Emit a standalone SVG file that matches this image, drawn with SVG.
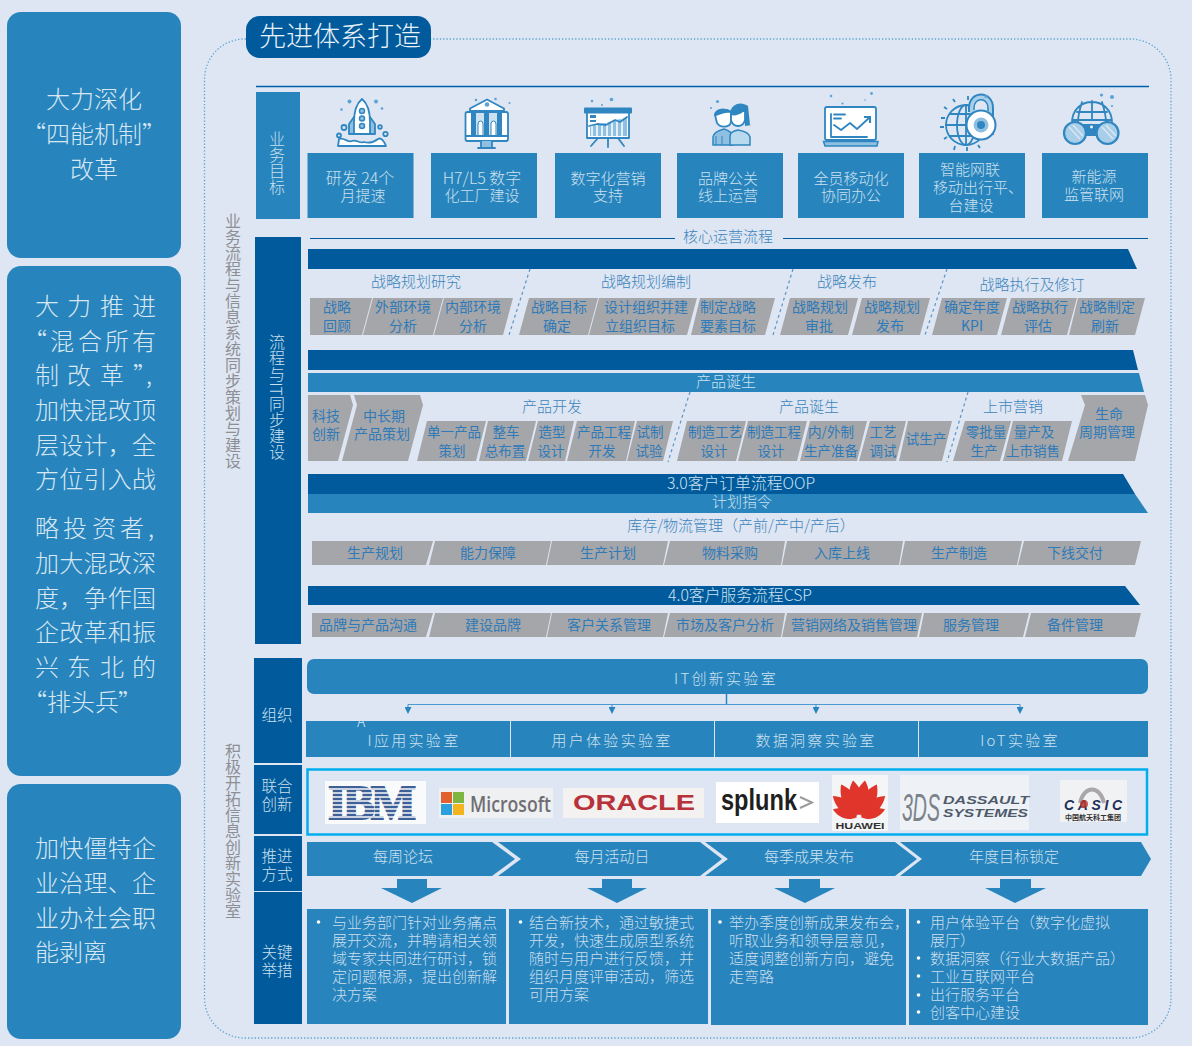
<svg xmlns="http://www.w3.org/2000/svg" xmlns:xlink="http://www.w3.org/1999/xlink" width="1192" height="1046" viewBox="0 0 1192 1046">
<style>
text{font-family:"Noto Sans CJK SC","Noto Sans",sans-serif;font-weight:300}
.m{fill:#2884bd}.d{fill:#005a9c}.g{fill:#a5a6a9}
.w{fill:#cbe1ef;font-size:15px;text-anchor:middle}
.b{fill:#d8e8f3;font-size:24px}
.bc{fill:#d8e8f3;font-size:24px;text-anchor:middle}
.t{fill:#2f7ab8;font-size:14px;text-anchor:middle;font-weight:400}
.n{font-size:13.500px}
.h{fill:#3d84bc;font-size:15px;text-anchor:middle}
.v{fill:#c9e0ee;font-size:16px;text-anchor:middle;writing-mode:vertical-rl}
.s{fill:#8e8f94;font-size:16px;text-anchor:middle;writing-mode:vertical-rl;font-weight:400}
.l{fill:#cbe1ef;font-size:15.500px;text-anchor:middle}
.lab{fill:#cbe1ef;font-size:15px;text-anchor:middle;letter-spacing:2.300px}
.p{fill:#c9dfed;font-size:15px}
.dot{fill:#fff}
.div{stroke:#5a94c6;stroke-width:1.200;stroke-dasharray:3 3;fill:none}
.ic{stroke:#2f86c0;stroke-width:1.800;fill:none;stroke-linejoin:round;stroke-linecap:round}
.icw{stroke:#2f86c0;stroke-width:1.800;fill:#fff;stroke-linejoin:round}
.icf{fill:#2f86c0}.icl{fill:#8fc0e2}.spk{fill:#5ba3d6}
</style>
<defs>
<marker id="ah" markerWidth="7" markerHeight="7" refX="0" refY="3.500" orient="auto" markerUnits="userSpaceOnUse" viewBox="0 0 7 7"><path d="M0 0L7 3.500L0 7Z" fill="#2884bd"/></marker>
<path id="petal" d="M0 -3C-10 -14 -8 -28 0 -38C8 -28 10 -14 0 -3Z" fill="#e0352b"/>
</defs>
<rect width="1192" height="1046" fill="#dde6f2"/>

<g id="block-1"><rect class="m" x="7" y="12" width="174" height="246" rx="14"/>
<text class="bc" x="94" y="108">大力深化</text><text class="bc" x="94" y="143">“四能机制”</text><text class="bc" x="94" y="178">改革</text></g>
<g id="block-2"><rect class="m" x="7" y="266" width="174" height="510" rx="14"/>
<text class="b" x="35 67 100 132" y="315">大力推进</text><text class="b" x="23 50 78 105 132" y="350">“混合所有</text><text class="b" x="35 67 100 133 146" y="384">制改革”,</text><text class="b" x="35" y="419" textLength="121">加快混改顶</text><text class="b" x="35" y="454" textLength="121">层设计，全</text><text class="b" x="35" y="488" textLength="121">方位引入战</text>
<text class="b" x="35 63 92 120 148" y="537">略投资者,</text><text class="b" x="35" y="572" textLength="121">加大混改深</text><text class="b" x="35" y="607" textLength="121">度，争作国</text><text class="b" x="35" y="641" textLength="121">企改革和振</text><text class="b" x="35 67 100 132" y="676">兴东北的</text><text class="b" x="23 47 71 95 118" y="711">“排头兵”</text></g>
<g id="block-3"><rect class="m" x="7" y="784" width="174" height="255" rx="14"/>
<text class="b" x="35" y="857" textLength="121">加快僵特企</text><text class="b" x="35" y="892" textLength="121">业治理、企</text><text class="b" x="35" y="927" textLength="121">业办社会职</text><text class="b" x="35" y="961">能剥离</text></g>

<path id="frame" d="M246 39H245C222 39 204.500 57 204.500 80V998C204.500 1020 222 1038 245 1038H1130C1153 1038 1171 1020 1171 998V80C1171 57 1153 39 1130 39H431" fill="none" stroke="#5ba3d0" stroke-width="1.300" stroke-dasharray="1.300 2"/>
<g id="title"><rect class="d" x="246" y="16" width="185" height="42" rx="14"/><text x="340" y="46" font-size="27" fill="#e8f1f7" text-anchor="middle">先进体系打造</text></g>
<text class="s" x="233" y="341">业务流程与信息系统同步策划与建设</text>
<text class="s" x="233" y="831">积极开拓信息创新实验室</text>

<path d="M256 86.500H1149" stroke="#005fae" stroke-width="1.300"/>
<g id="goals-label"><rect class="m" x="256" y="92" width="44" height="127"/><text class="v" x="277" y="163">业务目标</text></g>
<g id="goal-1"><rect class="m" x="307.500" y="153" width="106" height="65"/><text class="w" style="font-size:16px" x="360" y="184">研发 24个</text><text class="w" x="363" y="201">月提速</text></g>
<g id="goal-2"><rect class="m" x="431" y="153" width="106" height="65"/><text class="w" style="font-size:16px" x="482" y="184">H7/L5 数字</text><text class="w" x="482" y="201">化工厂建设</text></g>
<g id="goal-3"><rect class="m" x="555" y="153" width="106" height="65"/><text class="w" x="608" y="184">数字化营销</text><text class="w" x="608" y="201">支持</text></g>
<g id="goal-4"><rect class="m" x="677" y="153" width="106" height="65"/><text class="w" x="728" y="184">品牌公关</text><text class="w" x="728" y="201">线上运营</text></g>
<g id="goal-5"><rect class="m" x="798" y="153" width="106" height="65"/><text class="w" x="851" y="184">全员移动化</text><text class="w" x="851" y="201">协同办公</text></g>
<g id="goal-6"><rect class="m" x="919" y="153" width="106" height="65"/><text class="w" x="970" y="175">智能网联</text><text class="w" x="978" y="193">移动出行平、</text><text class="w" x="971" y="211">台建设</text></g>
<g id="goal-7"><rect class="m" x="1042" y="153" width="106" height="65"/><text class="w" x="1094" y="182">新能源</text><text class="w" x="1094" y="200">监管联网</text></g>

<g id="icon-rocket">
<path class="icl" d="M354 117L349 124V134H354ZM370 117L375 124V134H370Z"/><path class="ic" d="M354 117L349 124V134H375V124L370 117"/>
<path class="icw" d="M362 99C356 104 354 112 354 122V134H370V122C370 112 368 104 362 99Z"/>
<circle class="icl" cx="362" cy="111" r="2.500" stroke="#2f86c0" stroke-width="1.500"/><circle class="icl" cx="362" cy="118.500" r="2.500" stroke="#2f86c0" stroke-width="1.500"/><circle class="icl" cx="362" cy="126" r="2.500" stroke="#2f86c0" stroke-width="1.500"/>
<path class="icw" d="M338 146L339 139C344 137 348 143 352 141C356 139 360 144 364 142C370 144 374 142 378 139C381 137 384 141 386 146Z" stroke-width="1.500"/>
<circle class="ic" cx="344" cy="127.500" r="2.500"/><circle class="ic" cx="339" cy="135.500" r="2"/><circle class="ic" cx="385.500" cy="134" r="2.200"/><circle class="ic" cx="380" cy="127" r="1.800"/>
<circle class="spk" cx="349.500" cy="101.500" r="2"/><circle class="spk" cx="376" cy="101.500" r="2"/><circle class="spk" cx="341.500" cy="109.500" r="1.300"/><circle class="spk" cx="382" cy="108.500" r="1.300"/></g>

<g id="icon-bank">
<rect class="icw" x="465.500" y="112" width="42.500" height="29" rx="2"/>
<rect class="icf" x="471" y="110" width="31" height="26" opacity=".25"/>
<path class="icf" d="M471 112h5v24h-5zM484 112h5v24h-5zM497 112h5v24h-5z"/>
<path d="M478 136v-12a2.500 3 0 0 1 5 0v12zM491 136v-12a2.500 3 0 0 1 5 0v12z" fill="#fff" stroke="#2f86c0"/>
<path class="icw" d="M487 99.500L470 108.500V111H504V108.500Z"/><circle class="spk" cx="487" cy="104.500" r="2.300"/>
<path class="ic" d="M466 136H508"/><path class="icl" d="M481 141H492V147H481Z"/><path class="ic" d="M478 148H495M481 141V148M492 141V148"/>
<circle class="spk" cx="476" cy="100" r="1.300"/><circle class="spk" cx="495.500" cy="99" r="1.300"/><circle class="spk" cx="509.500" cy="103" r="1"/></g>

<g id="icon-board">
<rect class="icw" x="587" y="112" width="42" height="26"/>
<path class="icl" d="M590 136V127L597 124L606 123L615 120L627 118V136Z"/>
<path d="M592 126V136M597 125V136M602 124V136M607 123V136M612 122V136M617 120V136M622 119V136" stroke="#fff" stroke-width="1.500"/>
<path class="ic" d="M589 126L597 124L606 125L615 120L620 122L627 117"/>
<rect class="icf" x="590" y="115" width="6" height="3"/><rect class="icf" x="590" y="120" width="6" height="2"/>
<rect class="icf" x="584" y="107.500" width="48" height="6" rx="1"/>
<path class="ic" d="M608 139V147M598 138L591 146M618 138L624 146"/>
<circle class="spk" cx="592" cy="101" r="1.300"/><circle class="spk" cx="611.500" cy="99.500" r="1.800"/><circle class="spk" cx="602" cy="105" r="1"/></g>

<g id="icon-people">
<path class="icl" d="M713 145V137C713 133 717 131 724 129C731 131 733 133 733 145Z" stroke="#2f86c0" stroke-width="1.500"/>
<path d="M722 145V136M716 145V136" stroke="#2f86c0"/>
<path class="icw" d="M715 115C716 109 725 108 731 112V122C730 127 721 129 717 123Z"/>
<path class="icf" d="M714 115C716 108 726 107 731 111L731 113C725 112 722 114 716 116Z"/>
<path d="M730 145V136C730 133 733 131 738 130C744 131 749 133 750 137V145Z" fill="#b9d9ee" stroke="#2f86c0" stroke-width="1.500"/>
<path class="icf" d="M730 114C730 105 740 100 748 106L750 125H752L745 126V114H733Z"/>
<path class="icw" d="M731 114C735 116 741 113 745 109V120C743 128 733 128 731 120Z"/>
<circle class="spk" cx="717.500" cy="101.500" r="1.600"/><circle class="spk" cx="711" cy="108" r="1"/></g>

<g id="icon-laptop">
<rect class="icw" x="825" y="107" width="51" height="33" rx="2" stroke-width="2"/>
<path class="ic" d="M831 114V137H867M834 125L841 130L850 123L857 129L869 118"/>
<path d="M864 117H870V123" fill="none" stroke="#2f86c0" stroke-width="2"/>
<path class="ic" d="M834 114.500H845M834 118.500H841"/>
<path class="icl" d="M823.500 141.500H878L877 146H825Z" stroke="#2f86c0" stroke-width="1.500"/>
<circle class="spk" cx="831" cy="96" r="1.300"/><circle class="spk" cx="842.500" cy="103.500" r="1.100"/><circle class="spk" cx="871.500" cy="93.500" r="1.400"/><circle class="spk" cx="865" cy="100" r=".8"/></g>

<g id="icon-globe">
<circle class="ic" cx="966" cy="125" r="20"/><ellipse class="ic" cx="966" cy="125" rx="9" ry="20"/><path class="ic" d="M966 105V145M946 125H986M950 114H982M950 136H982"/>
<path d="M945 118h-4M944 127h-4M947 109l-3-2M947 137l-3 2M955 102l-2-3M968 100v-4M955 146l-1 4M967 147v4M978 145l2 3" stroke="#2f86c0" stroke-width="1.800"/>
<path d="M969 112V108C969 90 993 90 993 108V135" fill="#a8cfe9" stroke="#2f86c0" stroke-width="2"/>
<path d="M974 110V108C974 97 988 97 988 108V111" fill="#dde6f2" stroke="#2f86c0" stroke-width="1.500"/>
<circle cx="981" cy="125" r="14.500" fill="#fff" stroke="#2f86c0" stroke-width="2"/><circle cx="981" cy="125" r="7.500" fill="#8fc0e2"/><circle cx="981" cy="125" r="4" fill="#2f86c0"/>
<circle class="spk" cx="986" cy="96.500" r="1.500"/></g>

<g id="icon-binoculars">
<path class="ic" d="M1072 123C1072 95 1112 95 1112 123M1082 102C1078 115 1078 118 1078 122M1102 102C1106 115 1106 118 1106 122M1092 101V120M1077 112H1107M1072 120H1112"/>
<path class="icf" d="M1080 124H1103L1106 128L1098 136H1085L1077 128Z"/>
<circle class="icw" cx="1091.500" cy="127" r="2.300"/>
<circle cx="1075" cy="133" r="11" fill="#a8cfe9" stroke="#2f86c0" stroke-width="2.200"/><circle cx="1107.500" cy="133" r="11" fill="#a8cfe9" stroke="#2f86c0" stroke-width="2.200"/>
<path d="M1069 127L1080 139M1073 125L1083 136M1102 127L1113 139M1106 125L1116 136" stroke="#dde6f2" stroke-width="1.500"/>
<circle class="spk" cx="1101.500" cy="95" r="1.600"/><circle class="spk" cx="1112" cy="97" r="2"/><circle class="spk" cx="1112" cy="106" r="1.100"/></g>

<g id="process-label"><rect class="d" x="255" y="237" width="46" height="407"/><text class="v" x="277" y="397">流程与IT同步建设</text></g>
<path d="M310 238.500H675M783 238.500H1148" stroke="#005a9c" stroke-width="1.200"/>
<text class="h" x="728" y="242">核心运营流程</text>

<g id="bars">
<polygon class="d" points="308,249 1128,249 1137,269 308,269"/>
<polygon class="d" points="308,350 1133,350 1138,370 308,370"/>
<polygon class="m" points="308,373 1139,373 1144,392 308,392"/>
<text class="w" x="726" y="387">产品诞生</text>
<polygon class="d" points="308,474 1123,474 1135,494 308,494"/>
<polygon class="m" points="308,494 1135,494 1148,513 308,513"/>
<text class="w" style="font-size:15.800px" x="741" y="489">3.0客户订单流程OOP</text><text class="w" x="742" y="507">计划指令</text>
<polygon class="d" points="308,586 1125,586 1140,605 308,605"/>
<text class="w" style="font-size:15.800px" x="740" y="601">4.0客户服务流程CSP</text>
</g>

<g id="dividers"><path class="div" d="M530 269L509 335M793 269L773 335M947 269L925 335M690 392L668 462M968 392L947 462"/></g>

<g id="strategy">
<text class="h" x="416" y="287">战略规划研究</text><text class="h" x="646" y="287">战略规划编制</text><text class="h" x="847" y="287">战略发布</text><text class="h" x="1032" y="290">战略执行及修订</text>
<polygon class="g" points="310,298 372,298 362,335 310,335"/><text class="t" x="337" y="312">战略</text><text class="t" x="337" y="331">回顾</text>
<polygon class="g" points="373,298 443,298 433,335 363,335"/><text class="t" x="403" y="312">外部环境</text><text class="t" x="403" y="331">分析</text>
<polygon class="g" points="444,298 513,298 503,335 434,335"/><text class="t" x="473" y="312">内部环境</text><text class="t" x="473" y="331">分析</text>
<polygon class="g" points="529,298 598,298 588,335 519,335"/><text class="t" x="559" y="312">战略目标</text><text class="t" x="557" y="331">确定</text>
<polygon class="g" points="599,298 697,298 687,335 589,335"/><text class="t" x="646" y="312">设计组织并建</text><text class="t" x="640" y="331">立组织目标</text>
<polygon class="g" points="700,298 775,298 765,335 691,335"/><text class="t" x="728" y="312">制定战略</text><text class="t" x="728" y="331">要素目标</text>
<polygon class="g" points="790,298 858,298 848,335 780,335"/><text class="t" x="820" y="312">战略规划</text><text class="t" x="819" y="331">审批</text>
<polygon class="g" points="862,298 930,298 920,335 852,335"/><text class="t" x="892" y="312">战略规划</text><text class="t" x="890" y="331">发布</text>
<polygon class="g" points="942,298 1007,298 997,335 932,335"/><text class="t" x="972" y="312">确定年度</text><text class="t" x="972" y="331">KPI</text>
<polygon class="g" points="1011,298 1077,298 1067,335 1001,335"/><text class="t" x="1040" y="312">战略执行</text><text class="t" x="1038" y="331">评估</text>
<polygon class="g" points="1078,298 1145,298 1135,335 1069,335"/><text class="t" x="1107" y="312">战略制定</text><text class="t" x="1105" y="331">刷新</text>
</g>

<g id="product">
<text class="h" x="552" y="412">产品开发</text><text class="h" x="809" y="412">产品诞生</text><text class="h" x="1013" y="412">上市营销</text>
<polygon class="g" points="308,395 350,395 353,405 338,461 308,461"/><text class="t" x="326" y="421">科技</text><text class="t" x="326" y="439">创新</text>
<polygon class="g" points="354,395 420,395 423,405 408,461 342,461 357,405"/><text class="t" x="384" y="421">中长期</text><text class="t" x="382" y="439">产品策划</text>
<polygon class="g" points="427,421 486,421 476,461 417,461"/><text class="t n" x="454" y="437">单一产品</text><text class="t n" x="452" y="456">策划</text>
<polygon class="g" points="488,421 536,421 526,461 479,461"/><text class="t n" x="506" y="437">整车</text><text class="t n" x="505" y="456">总布置</text>
<polygon class="g" points="538,421 574,421 565,461 528,461"/><text class="t n" x="552" y="437">造型</text><text class="t n" x="551" y="456">设计</text>
<polygon class="g" points="577,421 635,421 626,461 567,461"/><text class="t n" x="604" y="437">产品工程</text><text class="t n" x="602" y="456">开发</text>
<polygon class="g" points="637,421 673,421 663,461 627,461"/><text class="t n" x="650" y="437">试制</text><text class="t n" x="649" y="456">试验</text>
<polygon class="g" points="687,421 746,421 736,461 677,461"/><text class="t n" x="715" y="437">制造工艺</text><text class="t n" x="714" y="456">设计</text>
<polygon class="g" points="748,421 807,421 797,461 738,461"/><text class="t n" x="774" y="437">制造工程</text><text class="t n" x="771" y="456">设计</text>
<polygon class="g" points="810,421 867,421 857,461 800,461"/><text class="t n" x="831" y="437">内/外制</text><text class="t n" x="831" y="456">生产准备</text>
<polygon class="g" points="870,421 906,421 896,461 859,461"/><text class="t n" x="883" y="437">工艺</text><text class="t n" x="883" y="456">调试</text>
<polygon class="g" points="908,421 952,421 942,461 899,461"/><text class="t n" x="926" y="444">试生产</text>
<polygon class="g" points="965,421 1011,421 1000,461 953,461"/><text class="t n" x="986" y="437">零批量</text><text class="t n" x="984" y="456">生产</text>
<polygon class="g" points="1013,421 1072,421 1062,461 1003,461"/><text class="t n" x="1034" y="437">量产及</text><text class="t n" x="1033" y="456">上市销售</text>
<polygon class="g" points="1081,395 1145,395 1148,405 1135,461 1068,461 1085,405"/><text class="t" x="1109" y="419">生命</text><text class="t" x="1107" y="437">周期管理</text>
</g>

<g id="order">
<text class="h" x="741" y="531">库存/物流管理（产前/产中/产后）</text>
<polygon class="g" points="312,541 433,541 426,565 312,565"/><text class="t" x="375" y="558">生产规划</text>
<polygon class="g" points="435,541 551,541 546,565 429,565"/><text class="t" x="488" y="558">能力保障</text>
<polygon class="g" points="552,541 668,541 663,565 547,565"/><text class="t" x="608" y="558">生产计划</text>
<polygon class="g" points="670,541 785,541 781,565 664,565"/><text class="t" x="730" y="558">物料采购</text>
<polygon class="g" points="787,541 903,541 899,565 782,565"/><text class="t" x="842" y="558">入库上线</text>
<polygon class="g" points="905,541 1022,541 1017,565 900,565"/><text class="t" x="959" y="558">生产制造</text>
<polygon class="g" points="1024,541 1141,541 1135,565 1018,565"/><text class="t" x="1075" y="558">下线交付</text>
</g>
<g id="service">
<polygon class="g" points="312,613 433,613 426,637 312,637"/><text class="t" x="368" y="630">品牌与产品沟通</text>
<polygon class="g" points="435,613 551,613 546,637 429,637"/><text class="t" x="493" y="630">建设品牌</text>
<polygon class="g" points="552,613 668,613 663,637 547,637"/><text class="t" x="609" y="630">客户关系管理</text>
<polygon class="g" points="670,613 785,613 781,637 664,637"/><text class="t" x="725" y="630">市场及客户分析</text>
<polygon class="g" points="787,613 922,613 917,637 782,637"/><text class="t" x="854" y="630">营销网络及销售管理</text>
<polygon class="g" points="924,613 1029,613 1023,637 919,637"/><text class="t" x="971" y="630">服务管理</text>
<polygon class="g" points="1031,613 1141,613 1135,637 1025,637"/><text class="t" x="1075" y="630">备件管理</text>
</g>

<g id="lab-labels">
<g id="label-org"><rect class="d" x="254" y="658" width="48" height="105"/><text class="l" x="277" y="721">组织</text></g>
<g id="label-joint"><rect class="d" x="254" y="765" width="48" height="69"/><text class="l" x="277" y="792">联合</text><text class="l" x="277" y="810">创新</text></g>
<g id="label-push"><rect class="d" x="254" y="836" width="48" height="55"/><text class="l" x="277" y="862">推进</text><text class="l" x="277" y="880">方式</text></g>
<g id="label-key"><rect class="d" x="254" y="892" width="48" height="132"/><text class="l" x="277" y="958">关键</text><text class="l" x="277" y="976">举措</text></g>
</g>

<g id="it-lab"><rect class="m" x="307" y="659" width="841" height="35" rx="7"/><text class="lab" x="726" y="684">IT创新实验室</text></g>
<g id="connectors" fill="none" stroke="#4a9bd0" stroke-width="1.200">
<path d="M726.500 694V704" stroke="#2884bd" stroke-width="1.500"/>
<path d="M408 704.500H1020"/>
<path d="M408 704.500V707" marker-end="url(#ah)"/><path d="M612 704.500V707" marker-end="url(#ah)"/><path d="M816 704.500V707" marker-end="url(#ah)"/><path d="M1020 704.500V707" marker-end="url(#ah)"/>
</g>
<g id="lab-1"><rect class="m" x="306" y="721" width="204" height="36"/><text x="361" y="727" font-size="14" fill="#dbe9f3" text-anchor="middle">A</text><text class="lab" x="414" y="746">I应用实验室</text></g>
<g id="lab-2"><rect class="m" x="511" y="721" width="203" height="36"/><text class="lab" x="612" y="746">用户体验实验室</text></g>
<g id="lab-3"><rect class="m" x="715" y="721" width="203" height="36"/><text class="lab" x="816" y="746">数据洞察实验室</text></g>
<g id="lab-4"><rect class="m" x="919" y="721" width="229" height="36"/><text class="lab" x="1020" y="746">IoT实验室</text></g>

<g id="partners">
<rect x="307.500" y="769.500" width="839.500" height="65" fill="#dde6f2" stroke="#00aeef" stroke-width="2.500"/>
<g id="logo-ibm"><rect x="325" y="781" width="101" height="43" fill="#f9fafb"/>
<text x="372" y="819" font-size="48" text-anchor="middle" style="font-family:'Liberation Serif',serif;font-weight:700" fill="#3f5f97" stroke="#3f5f97" stroke-width="1.800" textLength="88">IBM</text>
<path d="M328 789H424M328 793H424M328 797H424M328 801H424M328 805H424M328 809H424M328 813H424M328 817H424" stroke="#f9fafb" stroke-width="1.300"/></g>
<g id="logo-microsoft"><rect x="439" y="788" width="114" height="30" fill="#eef0f1"/>
<rect x="441" y="792" width="11" height="11" fill="#e2622f"/><rect x="453" y="792" width="11" height="11" fill="#7eb63f"/><rect x="441" y="804" width="11" height="11" fill="#2d9fdc"/><rect x="453" y="804" width="11" height="11" fill="#f4b41e"/>
<text x="470" y="812" font-size="21" style="font-family:'Open Sans',sans-serif;font-weight:600" fill="#706e73" textLength="81" lengthAdjust="spacingAndGlyphs">Microsoft</text></g>
<g id="logo-oracle"><rect x="563" y="788" width="141" height="30" fill="#f4f1f1"/>
<text x="634" y="810" font-size="22" style="font-family:'Liberation Sans',sans-serif;font-weight:700" fill="#b8323a" text-anchor="middle" textLength="122" lengthAdjust="spacingAndGlyphs">ORACLE</text></g>
<g id="logo-splunk"><rect x="716" y="782" width="103" height="41" fill="#fff"/>
<text x="721" y="810" font-size="30" style="font-family:'Liberation Sans',sans-serif;font-weight:700" fill="#1f1f1f" textLength="76" lengthAdjust="spacingAndGlyphs">splunk</text>
<path d="M800 797L812 802.500L800 808" fill="none" stroke="#9b9b9b" stroke-width="2"/></g>
<g id="logo-huawei"><rect x="832" y="775" width="56" height="56" fill="#f3f5f7"/>
<g transform="translate(859 818)"><use xlink:href="#petal" href="#petal" transform="rotate(-72) scale(.72)"/><use xlink:href="#petal" href="#petal" transform="rotate(-50) scale(.9)"/><use xlink:href="#petal" href="#petal" transform="rotate(-28)"/><use xlink:href="#petal" href="#petal" transform="rotate(-9)"/><use xlink:href="#petal" href="#petal" transform="rotate(9)"/><use xlink:href="#petal" href="#petal" transform="rotate(28)"/><use xlink:href="#petal" href="#petal" transform="rotate(50) scale(.9)"/><use xlink:href="#petal" href="#petal" transform="rotate(72) scale(.72)"/></g>
<text x="860" y="829" font-size="9" style="font-family:'Liberation Sans',sans-serif;font-weight:700" fill="#333" text-anchor="middle" textLength="49" lengthAdjust="spacingAndGlyphs">HUAWEI</text></g>
<g id="logo-dassault"><rect x="900" y="775" width="129" height="55" fill="#eef2f7"/>
<text x="902" y="821" font-size="38" style="font-family:'Liberation Sans',sans-serif;font-style:italic;font-weight:400" fill="#7c8289" textLength="38" lengthAdjust="spacingAndGlyphs">3DS</text>
<text x="943" y="804" font-size="11.500" style="font-family:'Liberation Sans',sans-serif;font-style:italic;font-weight:700" fill="#4f5b6b" textLength="86" lengthAdjust="spacingAndGlyphs">DASSAULT</text>
<text x="943" y="817" font-size="11.500" style="font-family:'Liberation Sans',sans-serif;font-style:italic;font-weight:700" fill="#4f5b6b" textLength="85" lengthAdjust="spacingAndGlyphs">SYSTEMES</text></g>
<g id="logo-casic"><rect x="1060" y="780" width="67" height="42" fill="#f1f2f4"/>
<path d="M1080 803C1084 785 1100 785 1104 803" fill="none" stroke="#a9a7ab" stroke-width="4"/>
<text x="1093" y="810" font-size="14" style="font-family:'Liberation Sans',sans-serif;font-style:italic;font-weight:700" fill="#1f2f5a" text-anchor="middle" textLength="58" lengthAdjust="spacing">CASIC</text>
<circle cx="1084" cy="804" r="4" fill="#c0392b" opacity=".8"/>
<text x="1093" y="820" font-size="7" fill="#333" text-anchor="middle" style="font-weight:700">中国航天科工集团</text></g>
</g>

<g id="steps">
<g id="step-1"><polygon class="m" points="307,842 492,842 515,859 492,876 307,876"/><text class="w" x="403" y="862">每周论坛</text></g>
<g id="step-2"><polygon class="m" points="498,842 700,842 722,859 700,876 498,876 521,859"/><text class="w" x="612" y="862">每月活动日</text></g>
<g id="step-3"><polygon class="m" points="705,842 895,842 917,859 895,876 705,876 728,859"/><text class="w" x="809" y="862">每季成果发布</text></g>
<g id="step-4"><polygon class="m" points="900,842 1141,842 1151,859 1141,876 900,876 922,859"/><text class="w" x="1014" y="862">年度目标锁定</text></g>
</g>
<g id="down-arrows">
<polygon class="m" points="397,879 427,879 427,888 442,888 412,903 381,888 397,888"/>
<polygon class="m" points="602,879 632,879 632,888 647,888 617,903 587,888 602,888"/>
<polygon class="m" points="789,879 820,879 820,888 835,888 805,903 774,888 789,888"/>
<polygon class="m" points="1000,879 1031,879 1031,888 1046,888 1015,903 985,888 1000,888"/>
</g>

<g id="measure-1"><rect class="m" x="307" y="909" width="199" height="115"/><circle class="dot" cx="318.500" cy="922" r="1.800"/>
<text class="p" x="332" y="927.500">与业务部门针对业务痛点</text><text class="p" x="332" y="945.500">展开交流，并聘请相关领</text><text class="p" x="332" y="963.500">域专家共同进行研讨，锁</text><text class="p" x="332" y="981.500">定问题根源，提出创新解</text><text class="p" x="332" y="1000">决方案</text></g>
<g id="measure-2"><rect class="m" x="509" y="909" width="199" height="115"/><circle class="dot" cx="520.500" cy="922" r="1.800"/>
<text class="p" x="529" y="927.500">结合新技术，通过敏捷式</text><text class="p" x="529" y="945.500">开发，快速生成原型系统</text><text class="p" x="529" y="963.500">随时与用户进行反馈，并</text><text class="p" x="529" y="981.500">组织月度评审活动，筛选</text><text class="p" x="529" y="1000">可用方案</text></g>
<g id="measure-3"><rect class="m" x="711" y="909" width="195" height="116"/><circle class="dot" cx="720" cy="922" r="1.800"/>
<text class="p" x="729" y="927.500">举办季度创新成果发布会，</text><text class="p" x="729" y="945.500">听取业务和领导层意见，</text><text class="p" x="729" y="963.500">适度调整创新方向，避免</text><text class="p" x="729" y="981.500">走弯路</text></g>
<g id="measure-4"><rect class="m" x="909" y="909" width="239" height="116"/>
<circle class="dot" cx="918.500" cy="922" r="1.800"/><circle class="dot" cx="918.500" cy="958" r="1.800"/><circle class="dot" cx="918.500" cy="976" r="1.800"/><circle class="dot" cx="918.500" cy="995" r="1.800"/><circle class="dot" cx="918.500" cy="1012" r="1.800"/>
<text class="p" x="930" y="927.500">用户体验平台（数字化虚拟</text><text class="p" x="930" y="945.500">展厅）</text><text class="p" x="930" y="963.500">数据洞察（行业大数据产品）</text><text class="p" x="930" y="981.500">工业互联网平台</text><text class="p" x="930" y="1000">出行服务平台</text><text class="p" x="930" y="1017.500">创客中心建设</text></g>
</svg>
